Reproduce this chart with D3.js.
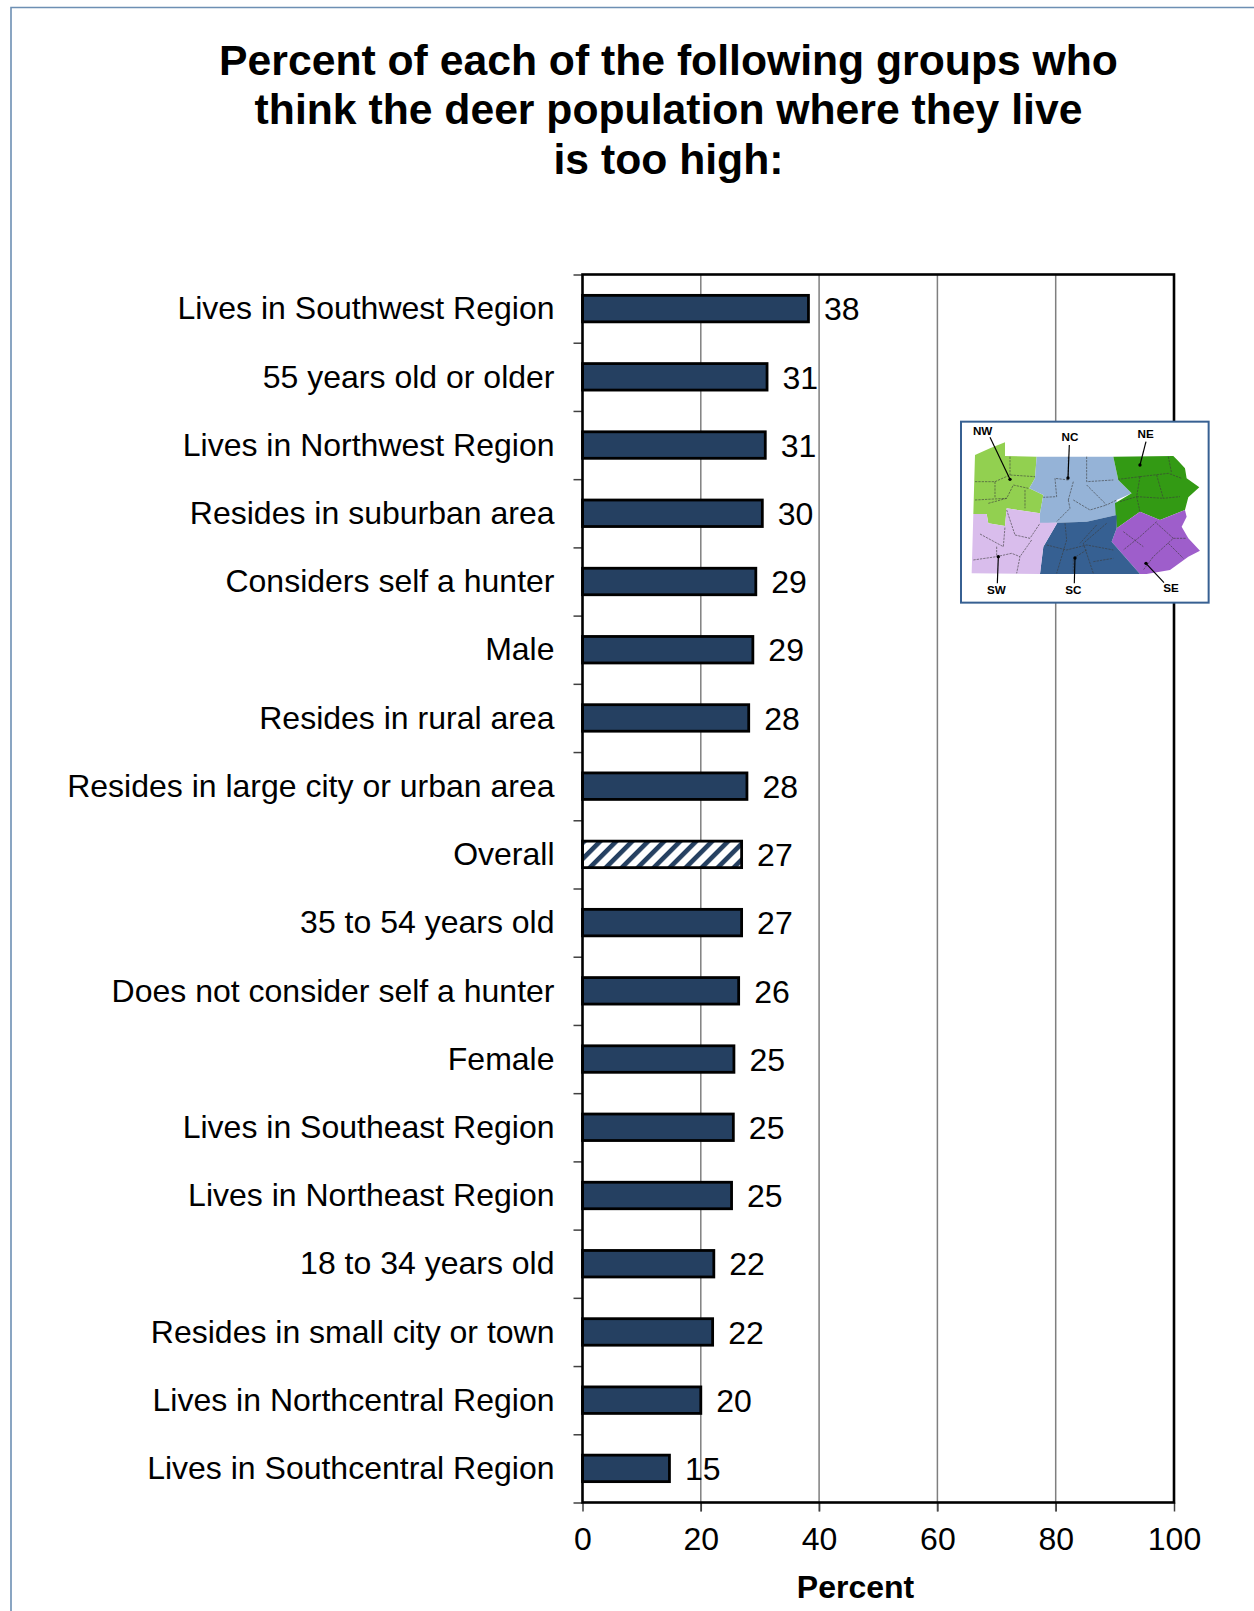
<!DOCTYPE html>
<html><head><meta charset="utf-8">
<script src="https://cdn.jsdelivr.net/npm/d3@7"></script>
<style>
html,body{margin:0;padding:0;background:#fff}
svg{display:block}
text{font-family:"Liberation Sans",Arial,sans-serif;fill:#000}
</style></head><body><svg id="c" width="1254" height="1611"></svg>
<script>
const titleLines = ["Percent of each of the following groups who","think the deer population where they live","is too high:"];
const categories = ["Lives in Southwest Region","55 years old or older","Lives in Northwest Region","Resides in suburban area","Considers self a hunter","Male","Resides in rural area","Resides in large city or urban area","Overall","35 to 54 years old","Does not consider self a hunter","Female","Lives in Southeast Region","Lives in Northeast Region","18 to 34 years old","Resides in small city or town","Lives in Northcentral Region","Lives in Southcentral Region"];
const values = [38.2,31.2,30.9,30.4,29.3,28.8,28.1,27.8,26.9,26.9,26.4,25.6,25.5,25.2,22.2,22.0,20.0,14.7];
const valueLabels = [38,31,31,30,29,29,28,28,27,27,26,25,25,25,22,22,20,15];
const hatchedCategory = "Overall";
const xTicks = [0,20,40,60,80,100];
const xTitle = "Percent";

// inset map, in the inset's own drawing units
const mapRegions = [
 {name:"NW",color:"#92d050",pts:[[105,135],[150,115],[195,97],[195,138],[290,140],[285,205],[268,235],[310,255],[300,310],[200,295],[195,348],[145,340],[140,312],[100,312]]},
 {name:"NC",color:"#95b3d7",pts:[[290,140],[520,140],[535,210],[575,250],[530,270],[530,315],[440,335],[300,340],[300,310],[310,255],[268,235],[285,205]]},
 {name:"NE",color:"#339a14",pts:[[520,140],[700,138],[712,150],[735,175],[740,205],[778,232],[745,262],[735,300],[660,330],[600,305],[530,355],[525,280],[575,250],[535,210]]},
 {name:"SE",color:"#9e5ecb",pts:[[600,305],[660,330],[735,300],[740,320],[725,350],[745,385],[780,422],[745,440],[690,480],[620,492],[600,492],[515,395],[530,355]]},
 {name:"SC",color:"#366092",pts:[[352,338],[440,335],[530,315],[530,355],[515,395],[600,492],[300,492],[310,410]]},
 {name:"SW",color:"#d9bdec",pts:[[100,312],[140,312],[145,340],[195,348],[200,295],[300,310],[300,338],[352,338],[310,410],[300,492],[95,490]]}
];
const countyLines = [
 [[105,215],[165,215],[210,195],[285,200]],[[105,270],[200,265],[220,225],[265,235]],[[165,215],[165,265]],[[145,280],[200,265]],[[255,240],[255,295]],[[210,140],[210,195]],
 [[385,140],[385,210],[345,205],[350,260],[310,262]],[[440,140],[440,215],[520,210]],[[440,225],[500,285],[530,270]],[[385,270],[390,295],[350,335]],[[400,270],[450,300],[500,285]],[[400,215],[385,270]],
 [[600,200],[535,208]],[[600,200],[590,260],[600,305]],[[600,200],[685,190],[725,205]],[[685,140],[695,190]],[[650,195],[670,265],[720,260]],[[590,260],[670,265]],[[540,275],[590,260]],
 [[650,335],[600,380],[550,420]],[[550,365],[610,410]],[[650,340],[700,385],[640,440],[610,480]],[[700,385],[740,385]],[[685,400],[730,445]],
 [[375,340],[380,390],[350,490]],[[320,405],[380,420],[440,405],[520,420]],[[500,340],[430,400],[460,490]],[[440,420],[400,445],[400,490]],[[460,455],[520,445]],[[470,345],[420,400]],
 [[120,372],[190,410],[195,350]],[[100,450],[170,440],[215,430],[240,440],[230,490]],[[170,410],[170,440]],[[225,375],[270,385],[300,340]],[[275,390],[240,440]],[[200,300],[225,375]]
];
const mapLeaders = [
 {t:"NW",tx:128,ty:76,from:[150,82],to:[210,208]},
 {t:"NC",tx:390,ty:92,from:[388,105],to:[384,204]},
 {t:"NE",tx:617,ty:84,from:[618,95],to:[600,165]},
 {t:"SW",tx:169,ty:552,from:[172,520],to:[175,440]},
 {t:"SC",tx:400,ty:552,from:[403,520],to:[405,444]},
 {t:"SE",tx:693,ty:545,from:[672,518],to:[618,460]}
];

const svg = d3.select("#c");
const navy = "#254061";
const X0 = 582.5, X1 = 1174, Y0 = 274.5, Y1 = 1502.5;

// page frame
svg.append("path").attr("d", d3.line()([[11,1611],[11,7.5],[1254,7.5]])).attr("fill","none").attr("stroke","#6d8fb3").attr("stroke-width",1.6);

// title
svg.append("g").selectAll("text").data(titleLines).join("text")
  .attr("x",668.5).attr("y",(d,i)=>75+i*49.3).attr("text-anchor","middle")
  .attr("font-size",42.7).attr("font-weight","bold").text(d=>d);

const defs = svg.append("defs");
const pat = defs.append("pattern").attr("id","hatch").attr("patternUnits","userSpaceOnUse")
  .attr("width",11.3).attr("height",11.3).attr("patternTransform","rotate(45)");
pat.append("rect").attr("width",11.3).attr("height",11.3).attr("fill","#fff");
pat.append("rect").attr("width",4.6).attr("height",11.3).attr("fill",navy);

const x = d3.scaleLinear().domain([0,100]).range([X0,X1]);
const y = d3.scaleBand().domain(categories).range([Y0,Y1]).paddingInner(0).paddingOuter(0);
const yEdge = d3.scaleLinear().domain([0,categories.length]).range([Y0,Y1]);

// gridlines
svg.append("g").selectAll("line").data(xTicks.slice(1,-1)).join("line")
  .attr("x1",d=>x(d)).attr("x2",d=>x(d)).attr("y1",Y0).attr("y2",Y1+9)
  .attr("stroke","#7f7f7f").attr("stroke-width",1.5);

// x axis
const xAxis = svg.append("g").attr("transform",`translate(0,${Y1})`)
  .call(d3.axisBottom(x).tickValues(xTicks).tickSize(9).tickPadding(16));
xAxis.select(".domain").remove();
xAxis.selectAll("line").attr("stroke","#404040").attr("stroke-width",1.5);
xAxis.selectAll("text").attr("font-size",32).attr("font-family",'"Liberation Sans",Arial,sans-serif').attr("fill","#000");

// y axis ticks at category edges
const yAxis = svg.append("g").attr("transform",`translate(${X0},0)`)
  .call(d3.axisLeft(yEdge).tickValues(d3.range(categories.length+1)).tickSize(9).tickFormat(""));
yAxis.select(".domain").remove();
yAxis.selectAll("line").attr("stroke","#404040").attr("stroke-width",1.5);

// bars
const barH = 26.5;
svg.append("g").selectAll("rect").data(categories).join("rect")
  .attr("x",X0).attr("y",d=>y(d)+y.bandwidth()/2-barH/2)
  .attr("width",(d,i)=>x(values[i])-X0).attr("height",barH)
  .attr("fill",d=>d===hatchedCategory?"url(#hatch)":navy)
  .attr("stroke","#000").attr("stroke-width",2.8);

// plot frame
svg.append("rect").attr("x",X0).attr("y",Y0).attr("width",X1-X0).attr("height",Y1-Y0)
  .attr("fill","none").attr("stroke","#000").attr("stroke-width",2.6);

// category labels
svg.append("g").selectAll("text").data(categories).join("text")
  .attr("x",554.5).attr("y",d=>y(d)+y.bandwidth()/2-0.5).attr("dy","0.35em")
  .attr("text-anchor","end").attr("font-size",32).text(d=>d);

// value labels
svg.append("g").selectAll("text").data(categories).join("text")
  .attr("x",(d,i)=>x(values[i])+15.5).attr("y",d=>y(d)+y.bandwidth()/2+0.5).attr("dy","0.35em")
  .attr("font-size",32).text((d,i)=>valueLabels[i]);

// x title
svg.append("text").attr("x",855.5).attr("y",1598).attr("text-anchor","middle")
  .attr("font-size",32).attr("font-weight","bold").text(xTitle);

// inset
const map = svg.append("g").attr("transform","translate(940,410) scale(0.3333)");
map.append("rect").attr("x",63).attr("y",35).attr("width",743).attr("height",543)
  .attr("fill","#fff").attr("stroke","#376092").attr("stroke-width",6);
const ln = d3.line();
map.append("g").selectAll("path").data(mapRegions).join("path")
  .attr("d",d=>ln(d.pts)+"Z").attr("fill",d=>d.color);
map.append("g").selectAll("path").data(countyLines).join("path")
  .attr("d",d=>ln(d)).attr("fill","none").attr("stroke","#3a3a3a").attr("stroke-opacity",0.6).attr("stroke-width",3).attr("stroke-dasharray","7 3");
map.append("g").selectAll("path").data(mapLeaders).join("path")
  .attr("d",d=>ln([d.from,d.to])).attr("stroke","#000").attr("stroke-width",3.5).attr("fill","none");
map.append("g").selectAll("circle").data(mapLeaders).join("circle")
  .attr("cx",d=>d.to[0]).attr("cy",d=>d.to[1]).attr("r",5).attr("fill","#000");
map.append("g").selectAll("text").data(mapLeaders).join("text")
  .attr("x",d=>d.tx).attr("y",d=>d.ty).attr("text-anchor","middle")
  .attr("font-size",35).attr("font-weight","bold").text(d=>d.t);
</script></body></html>
